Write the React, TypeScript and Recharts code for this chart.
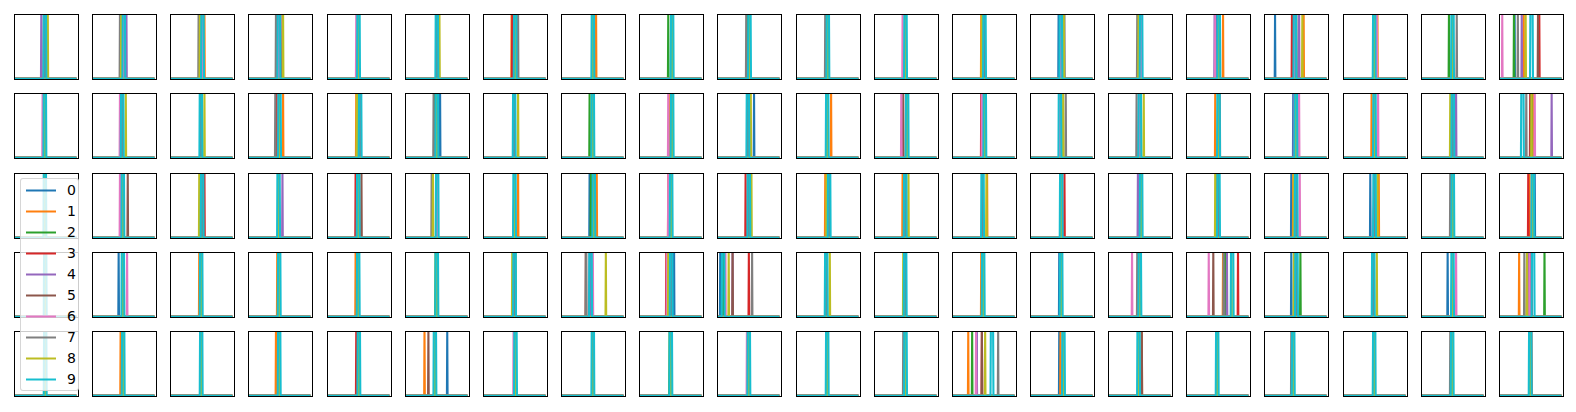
import React from 'react';
import { Line, LineChart, XAxis, YAxis } from 'recharts';

// tab10, one colour per series 0..9
const seriesColors = [
  '#1f77b4', '#ff7f0e', '#2ca02c', '#d62728', '#9467bd',
  '#8c564b', '#e377c2', '#7f7f7f', '#bcbd22', '#17becf',
];
const seriesNames = ['0', '1', '2', '3', '4', '5', '6', '7', '8', '9'];
// width of the top of each series' peak (series 9 has a flat, wider peak)
const peakWidths = [0, 0, 0, 0, 0, 0, 0, 0, 0, 3.5];

// x extent of every series (percent of panel width)
const xStart = 1.5;
const xEnd = 96;

// peak position of each series 0..9, per panel (20 panels per row)
const row0: number[][] = [
  [47, 47, 48, 48, 42, 47, 46, 46, 52, 47.5],
  [48, 48, 44, 48, 53, 48, 48, 43, 45, 49],
  [50, 53, 49, 49, 49, 49, 49, 44, 46, 50],
  [48, 48, 48, 48, 48, 53, 48, 43, 54, 47.5],
  [48, 48, 48, 48, 48, 48, 45, 48, 48, 48.5],
  [49, 49, 49, 49, 49, 49, 49, 49, 53, 49],
  [49, 44, 49, 45, 49, 49, 49, 54, 49, 49.5],
  [49, 54, 49, 49, 49, 49, 49, 49, 49, 49],
  [51, 51, 45, 51, 51, 51, 51, 51, 51, 51],
  [50, 50, 46, 50, 50, 50, 50, 45, 50, 50],
  [49, 49, 49, 49, 49, 46, 49, 45, 49, 49],
  [48, 48, 48, 48, 48, 48, 44, 48, 48, 48.5],
  [50, 45, 50, 50, 50, 50, 50, 50, 46, 50],
  [44, 47, 47, 47, 47, 47, 47, 53, 52, 47.5],
  [51, 51, 51, 51, 51, 51, 51, 45, 47, 51],
  [47, 57, 50, 50, 44, 50, 45, 50, 50, 50.5],
  [17, 61, 47, 43, 54, 49, 48, 50, 59, 47.5],
  [48, 53, 48, 48, 48, 48, 52, 48, 48, 48],
  [48, 48, 43, 48, 48, 48, 48, 55, 48, 48.5],
  [24, 38, 23, 62, 35, 60, 5, 29, 41, 50],
];
const row1: number[][] = [
  [47, 47, 47, 47, 47, 47, 44, 47, 47, 47.5],
  [46, 46, 46, 46, 46, 46, 43, 46, 52, 46.5],
  [47, 47, 47, 47, 47, 47, 47, 47, 53, 47.5],
  [48, 54, 48, 44, 48, 48, 48, 42, 48, 48.5],
  [50, 45, 50, 50, 50, 50, 50, 50, 46, 51],
  [54, 49, 45, 49, 49, 49, 49, 44, 49, 49],
  [48, 48, 48, 48, 48, 48, 48, 48, 54, 48],
  [49, 49, 44, 49, 49, 49, 49, 49, 49, 49],
  [51, 48, 51, 51, 51, 51, 45, 51, 51, 51],
  [57, 47, 47, 47, 47, 47, 47, 47, 52, 47.5],
  [48, 54, 48, 48, 48, 48, 48, 48, 48, 48],
  [51, 51, 51, 51, 51, 45, 42, 51, 51, 51],
  [50, 50, 50, 45, 50, 50, 46, 50, 50, 50.5],
  [46, 46, 46, 46, 46, 46, 46, 55, 51, 46],
  [49, 49, 49, 49, 49, 49, 49, 44, 55, 49],
  [50, 45, 50, 50, 50, 50, 50, 52, 50, 50],
  [45, 49, 49, 49, 46, 49, 54, 49, 49, 49],
  [48, 44, 48, 48, 48, 48, 54, 48, 48, 48.5],
  [49, 49, 49, 49, 54, 49, 49, 49, 45, 49],
  [50, 52, 50, 48, 81, 49, 55, 42, 50, 36],
];
const row2: number[][] = [
  [47, 47, 48, 47, 47, 47, 47, 47, 47, 47.5],
  [47, 47, 47, 47, 47, 55, 43, 47, 47, 47.5],
  [49, 47, 49, 53, 49, 49, 49, 49, 45, 49.5],
  [47, 47, 47, 47, 53, 47, 47, 47, 47, 47],
  [48, 48, 48, 44, 48, 53, 48, 48, 48, 48],
  [49, 49, 49, 49, 49, 49, 49, 41, 43, 49.5],
  [48, 54, 48, 48, 48, 48, 48, 48, 48, 48.5],
  [44, 55, 46, 50, 50, 50, 50, 50, 50, 50.5],
  [49, 45, 49, 49, 49, 49, 45, 49, 50, 49.5],
  [49, 49, 49, 44, 49, 49, 49, 49, 53, 49],
  [51, 45, 51, 51, 51, 51, 51, 51, 47, 51],
  [48, 44, 48, 48, 48, 48, 48, 48, 53, 48],
  [47, 54, 47, 47, 47, 47, 47, 47, 53, 47],
  [48, 48, 48, 53, 48, 48, 48, 48, 48, 48],
  [51, 51, 51, 51, 46, 51, 51, 51, 51, 51],
  [50, 46, 50, 50, 50, 50, 50, 50, 45, 50],
  [42, 45, 49, 49, 49, 49, 55, 49, 46, 49.5],
  [42, 55, 48, 48, 48, 48, 48, 48, 53, 48.5],
  [49, 49, 49, 49, 49, 49, 49, 45, 49, 49],
  [55, 47, 52, 45, 52, 52, 52, 52, 52, 52],
];
const row3: number[][] = [
  [48, 48, 48, 48, 48, 48, 48, 48, 48, 48],
  [41, 47, 47, 47, 47, 47, 54, 47, 47, 47.5],
  [48, 45, 48, 48, 48, 48, 48, 48, 48, 48],
  [48, 45, 48, 48, 48, 48, 48, 48, 48, 48],
  [48, 44, 48, 48, 48, 48, 48, 48, 48, 48],
  [49, 49, 47, 49, 49, 49, 49, 49, 49, 49],
  [48, 48, 50, 48, 48, 48, 48, 48, 45, 48.5],
  [44, 45, 45, 45, 45, 38, 49, 39, 69, 45.5],
  [54, 49, 49, 42, 49, 49, 43, 49, 45, 49.5],
  [5, 10, 10, 49, 24, 24, 13, 54, 18, 9.5],
  [46, 46, 46, 46, 46, 46, 46, 46, 52, 46.5],
  [48, 48, 48, 48, 48, 48, 48, 48, 45, 48],
  [48, 45, 48, 48, 48, 48, 48, 48, 48, 48],
  [45, 48, 48, 48, 48, 48, 48, 48, 48, 48],
  [49, 49, 49, 49, 49, 47, 37, 45, 49, 49],
  [60, 57, 60, 80, 63, 42, 35, 58, 70, 71],
  [42, 50, 56, 50, 50, 50, 50, 50, 46, 50],
  [46, 46, 46, 46, 46, 46, 46, 46, 52, 46.5],
  [41, 48, 48, 48, 48, 48, 54, 48, 48, 48.5],
  [45, 31, 70, 47, 44, 50, 47, 39, 43, 52.5],
];
const row4: number[][] = [
  [48, 48, 48, 48, 48, 48, 48, 48, 48, 48],
  [48, 44, 48, 48, 48, 48, 48, 48, 48, 48],
  [48, 48, 48, 48, 48, 48, 48, 48, 48, 48],
  [48, 43, 48, 48, 48, 48, 48, 48, 48, 48],
  [49, 49, 49, 45, 49, 49, 49, 49, 49, 49],
  [65, 30, 46, 46, 46, 36, 46, 46, 46, 46],
  [50, 50, 50, 50, 50, 50, 47, 50, 50, 50],
  [49, 49, 49, 49, 49, 49, 49, 49, 50, 49],
  [49, 49, 47, 49, 49, 49, 49, 49, 49, 49],
  [49, 49, 49, 49, 49, 49, 46, 49, 49, 49],
  [48, 48, 48, 48, 48, 48, 48, 48, 48, 48],
  [48, 48, 48, 48, 48, 48, 48, 45, 48, 48.5],
  [38, 25, 31, 46, 38, 46, 37, 71, 51, 61.5],
  [45, 47, 51, 51, 51, 51, 51, 51, 51, 51.5],
  [47, 52, 47, 47, 47, 52, 47, 47, 47, 47],
  [48, 48, 48, 48, 48, 48, 48, 48, 48, 48],
  [45, 45, 45, 45, 45, 45, 45, 42, 45, 45],
  [48, 48, 48, 48, 48, 48, 48, 48, 48, 48],
  [48, 48, 48, 48, 48, 48, 48, 45, 48, 48],
  [48, 48, 48, 48, 48, 50, 48, 48, 48, 48],
];
const panelRows = [row0, row1, row2, row3, row4];

const spikeData = (pos: number, width: number) => {
  const a = pos - width / 2;
  const b = pos + width / 2;
  return [
    { x: xStart, y: 0 },
    { x: a - 0.5, y: 0 },
    { x: a, y: 1 },
    { x: b, y: 1 },
    { x: b + 0.5, y: 0 },
    { x: xEnd, y: 0 },
  ];
};

const PANEL_W = 65;
const PANEL_H = 66;

const Panel = ({ spikes, left, top }: { spikes: number[]; left: number; top: number }) => (
  <div style={{ position: 'absolute', left, top, width: PANEL_W, height: PANEL_H }}>
    <LineChart width={PANEL_W} height={PANEL_H} margin={{ top: 0, right: 0, bottom: 0, left: 0 }}>
      <XAxis type="number" dataKey="x" domain={[0, 100]} allowDataOverflow hide />
      <YAxis type="number" domain={[-0.02, 1]} allowDataOverflow hide />
      {spikes.map((s, i) => (
        <Line
          key={i}
          data={spikeData(s, peakWidths[i])}
          dataKey="y"
          stroke={seriesColors[i]}
          strokeWidth={2.1}
          dot={false}
          type="linear"
          isAnimationActive={false}
        />
      ))}
    </LineChart>
    <div
      style={{
        position: 'absolute',
        left: 0,
        top: 0,
        width: PANEL_W,
        height: PANEL_H,
        boxSizing: 'border-box',
        border: '1px solid #000',
        pointerEvents: 'none',
      }}
    />
  </div>
);

const Legend = () => (
  <div
    style={{
      position: 'absolute',
      left: 20,
      top: 178,
      width: 59,
      height: 213,
      boxSizing: 'border-box',
      background: 'rgba(255,255,255,0.8)',
      border: '1px solid rgba(204,204,204,0.8)',
      borderRadius: 3,
      fontFamily: 'DejaVu Sans',
      fontSize: 14,
    }}
  >
    {seriesNames.map((name, i) => (
      <div key={name} style={{ position: 'absolute', left: 0, top: 2 + i * 21, height: 18, width: 57 }}>
        <svg width={40} height={18} style={{ position: 'absolute', left: 0, top: 0 }}>
          <line x1={5} x2={35} y1={9.5} y2={9.5} stroke={seriesColors[i]} strokeWidth={2} />
        </svg>
        <span style={{ position: 'absolute', left: 46, top: 0, lineHeight: '18px', color: '#000' }}>{name}</span>
      </div>
    ))}
  </div>
);

const App = () => {
  return (
    <div style={{ position: 'absolute', left: 0, top: 0, width: 1576, height: 412, background: '#fff' }}>
      {panelRows.map((row, r) =>
        row.map((spikes, c) => (
          <Panel key={`${r}-${c}`} spikes={spikes} left={14 + c * 78.15} top={14 + r * 79.3} />
        ))
      )}
      <Legend />
    </div>
  );
};

export default App;
